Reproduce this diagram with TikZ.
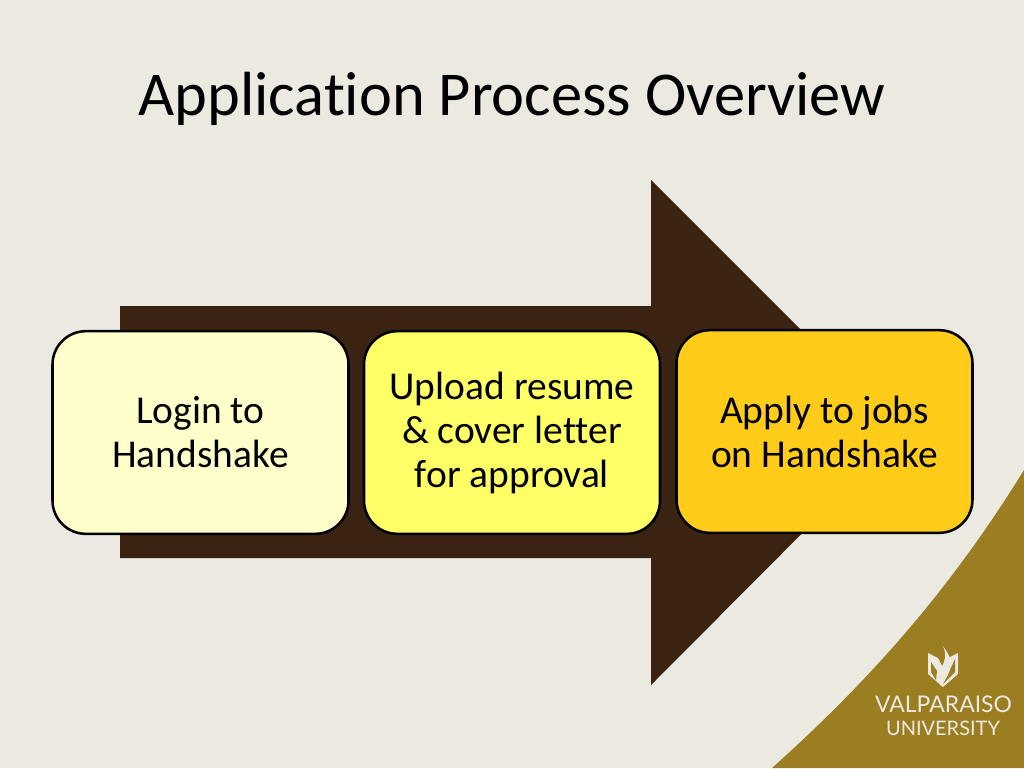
\documentclass[tikz,border=0pt]{standalone}
\usepackage{fontspec}
\setmainfont[Ligatures=NoCommon]{Carlito}
\newfontfamily\logofont{Lato}
\definecolor{slidebg}{HTML}{EBE9E0}
\definecolor{arrowbrown}{HTML}{3B2314}
\definecolor{gold}{HTML}{9C7E22}
\definecolor{paleyellow}{HTML}{FFFFCC}
\definecolor{midyellow}{HTML}{FFFF66}
\definecolor{deepyellow}{HTML}{FFCC1A}
\tikzset{
  stepbox/.style={draw=black,line width=1.9pt,rounded corners=25pt,minimum width=222pt,minimum height=152pt,align=center,font=\fontsize{29.6}{33}\selectfont,inner sep=0pt},
  logotext/.style={text=slidebg,inner sep=0pt,anchor=base,font=\logofont}
}
\begin{document}
\begin{tikzpicture}[x=0.75pt,y=-0.75pt]
\useasboundingbox (0,0) rectangle (1024,768);
\fill[slidebg] (0,0) rectangle (1024,768);
\fill[gold] (1024,470) .. controls (950,590) and (870,680) .. (772,768) -- (1024,768) -- cycle; % corner
\node[anchor=base,inner sep=0pt,font=\fontsize{46.8}{56}\selectfont] (title) at (512,115) {Application Process Overview};
\fill[arrowbrown] (120,306) -- (651,306) -- (651,180) -- (903,432) -- (651,685) -- (651,558) -- (120,558) -- cycle; % big arrow
\node[stepbox,fill=paleyellow] (login) at (200.5,432.5) {Login to\\Handshake};
\node[stepbox,fill=midyellow] (upload) at (512,432.5) {Upload resume\\\& cover letter\\for approval};
\node[stepbox,fill=deepyellow] (apply) at (824.5,431.5) {Apply to jobs\\on Handshake};
% logo
\fill[slidebg] (928,653) -- (938,658) -- (943,668) -- (948,658) -- (958,653) -- (958,674) -- (943,687) -- (928,674) -- cycle;
\fill[gold] (931,662) -- (937,671) -- (936,680) -- (931,672) -- cycle;
\fill[gold] (955,659) -- (949,672) -- (943,684) -- (955,672) -- cycle;
\fill[slidebg] (943,646) .. controls (947,655) and (945,662) .. (941,668) .. controls (937,675) and (937,680) .. (941,686) .. controls (946,678) and (953,670) .. (950,658) .. controls (948,654) and (946,650) .. (943,646) -- cycle;
\node[logotext,font=\logofont\fontsize{17.2}{20}\selectfont] (valpo) at (943.5,712) {VALPARAISO};
\node[logotext,font=\logofont\fontsize{15}{17}\selectfont] (univ) at (943,735) {UNIVERSITY};
\end{tikzpicture}
\end{document}
